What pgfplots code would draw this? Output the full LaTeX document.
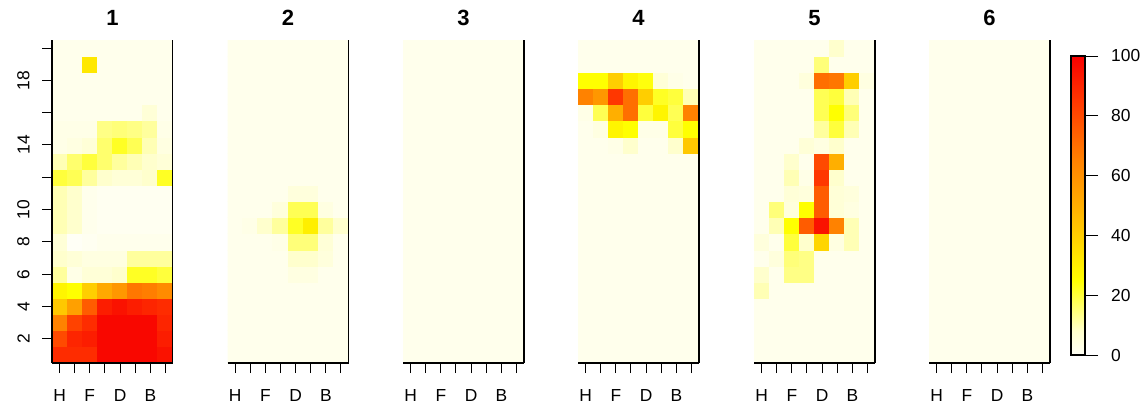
\documentclass[border=0pt]{standalone}
\usepackage{fontspec}
\setmainfont{Liberation Sans}
\usepackage{pgfplots}
\pgfplotsset{compat=1.18}

\pgfplotsset{
  colormap={heatramp}{rgb255(0pt)=(255,255,246) rgb255(8pt)=(255,255,205) rgb255(25pt)=(255,255,0)
    rgb255(45pt)=(255,190,0) rgb255(65pt)=(255,130,0) rgb255(85pt)=(255,55,0) rgb255(100pt)=(248,0,0)},
  every axis/.append style={
    /pgf/number format/assume math mode=true,
    tick label style={font=\fontsize{8.7}{10}\selectfont},
  },
  every axis title/.style={at={(0.5,1)}, anchor=center, yshift=11pt,
    font=\bfseries\fontsize{11}{13}\selectfont},
  panel/.style={
    scale only axis, width=60.5pt, height=161.5pt,
    anchor=south west,
    xmin=0.5, xmax=8.5, ymin=0.5, ymax=20.5,
    point meta min=0, point meta max=100,
    axis on top,
    axis x line*=bottom,
    xtick={1,...,8}, xticklabels={H,,F,,D,,B,},
    xticklabel style={yshift=-4.5pt},
    tick align=outside, major tick length=5pt,
    tick style={black, line width=0.5pt},
    axis line style={line width=0.8pt},
  },
  right frame/.style={axis y line*=right, ytick=\empty},
  cells/.style={matrix plot*, mesh/cols=8, point meta=explicit},
}

\begin{document}
\begin{tikzpicture}
\path[use as bounding box] (0,0) rectangle (572pt,-207pt);

% ---- panel 1 ----
\begin{axis}[panel, at={(26pt,-181.5pt)}, title={1},
  axis y line*=left, ytick={2,4,...,20}, yticklabels={2,4,6,8,10,,14,,18,},
  yticklabel style={rotate=90, anchor=south, inner ysep=6pt}]
\addplot[cells] coordinates {
(1,1)[88] (2,1)[88] (3,1)[88] (4,1)[98] (5,1)[98] (6,1)[98] (7,1)[98] (8,1)[95]
(1,2)[80] (2,2)[90] (3,2)[92] (4,2)[98] (5,2)[98] (6,2)[98] (7,2)[98] (8,2)[92]
(1,3)[65] (2,3)[82] (3,3)[88] (4,3)[98] (5,3)[98] (6,3)[98] (7,3)[98] (8,3)[90]
(1,4)[42] (2,4)[55] (3,4)[75] (4,4)[92] (5,4)[95] (6,4)[92] (7,4)[90] (8,4)[88]
(1,5)[28] (2,5)[25] (3,5)[40] (4,5)[52] (5,5)[58] (6,5)[68] (7,5)[66] (8,5)[62]
(1,6)[12] (2,6)[3] (3,6)[6] (4,6)[6] (5,6)[8] (6,6)[22] (7,6)[22] (8,6)[20]
(1,7)[8] (2,7)[6] (3,7)[4] (4,7)[4] (5,7)[4] (6,7)[12] (7,7)[12] (8,7)[12]
(1,8)[6] (2,8)[0] (3,8)[1] (4,8)[2] (5,8)[2] (6,8)[2] (7,8)[2] (8,8)[2]
(1,9)[10] (2,9)[8] (3,9)[2] (4,9)[1] (5,9)[1] (6,9)[1] (7,9)[1] (8,9)[1]
(1,10)[10] (2,10)[8] (3,10)[2] (4,10)[1] (5,10)[1] (6,10)[1] (7,10)[1] (8,10)[1]
(1,11)[10] (2,11)[8] (3,11)[2] (4,11)[1] (5,11)[1] (6,11)[1] (7,11)[1] (8,11)[1]
(1,12)[20] (2,12)[18] (3,12)[12] (4,12)[8] (5,12)[6] (6,12)[6] (7,12)[8] (8,12)[22]
(1,13)[10] (2,13)[16] (3,13)[20] (4,13)[16] (5,13)[12] (6,13)[10] (7,13)[8] (8,13)[6]
(1,14)[3] (2,14)[4] (3,14)[6] (4,14)[16] (5,14)[22] (6,14)[18] (7,14)[10] (8,14)[4]
(1,15)[3] (2,15)[3] (3,15)[3] (4,15)[14] (5,15)[15] (6,15)[14] (7,15)[12] (8,15)[3]
(1,16)[2] (2,16)[2] (3,16)[2] (4,16)[2] (5,16)[2] (6,16)[2] (7,16)[6] (8,16)[2]
(1,17)[2] (2,17)[2] (3,17)[2] (4,17)[2] (5,17)[2] (6,17)[2] (7,17)[2] (8,17)[2]
(1,18)[2] (2,18)[2] (3,18)[2] (4,18)[2] (5,18)[2] (6,18)[2] (7,18)[2] (8,18)[2]
(1,19)[2] (2,19)[2] (3,19)[32] (4,19)[2] (5,19)[2] (6,19)[2] (7,19)[2] (8,19)[2]
(1,20)[2] (2,20)[2] (3,20)[2] (4,20)[2] (5,20)[2] (6,20)[2] (7,20)[2] (8,20)[2]
};
\draw[line width=0.8pt] (rel axis cs:1,0) -- (rel axis cs:1,1);
\end{axis}

% ---- panel 2 ----
\begin{axis}[panel, right frame, at={(113.75pt,-181.5pt)}, title={2}]
\addplot[cells] coordinates {
(1,1)[2] (2,1)[2] (3,1)[2] (4,1)[2] (5,1)[2] (6,1)[2] (7,1)[2] (8,1)[2]
(1,2)[2] (2,2)[2] (3,2)[2] (4,2)[2] (5,2)[2] (6,2)[2] (7,2)[2] (8,2)[2]
(1,3)[2] (2,3)[2] (3,3)[2] (4,3)[2] (5,3)[2] (6,3)[2] (7,3)[2] (8,3)[2]
(1,4)[2] (2,4)[2] (3,4)[2] (4,4)[2] (5,4)[2] (6,4)[2] (7,4)[2] (8,4)[2]
(1,5)[2] (2,5)[2] (3,5)[2] (4,5)[2] (5,5)[2] (6,5)[2] (7,5)[2] (8,5)[2]
(1,6)[2] (2,6)[2] (3,6)[2] (4,6)[2] (5,6)[4] (6,6)[4] (7,6)[2] (8,6)[2]
(1,7)[2] (2,7)[2] (3,7)[2] (4,7)[2] (5,7)[8] (6,7)[8] (7,7)[5] (8,7)[2]
(1,8)[2] (2,8)[2] (3,8)[2] (4,8)[3] (5,8)[15] (6,8)[15] (7,8)[6] (8,8)[2]
(1,9)[2] (2,9)[3] (3,9)[8] (4,9)[12] (5,9)[22] (6,9)[30] (7,9)[12] (8,9)[8]
(1,10)[2] (2,10)[2] (3,10)[2] (4,10)[5] (5,10)[18] (6,10)[18] (7,10)[4] (8,10)[2]
(1,11)[2] (2,11)[2] (3,11)[2] (4,11)[2] (5,11)[5] (6,11)[5] (7,11)[2] (8,11)[2]
(1,12)[2] (2,12)[2] (3,12)[2] (4,12)[2] (5,12)[2] (6,12)[2] (7,12)[2] (8,12)[2]
(1,13)[2] (2,13)[2] (3,13)[2] (4,13)[2] (5,13)[2] (6,13)[2] (7,13)[2] (8,13)[2]
(1,14)[2] (2,14)[2] (3,14)[2] (4,14)[2] (5,14)[2] (6,14)[2] (7,14)[2] (8,14)[2]
(1,15)[2] (2,15)[2] (3,15)[2] (4,15)[2] (5,15)[2] (6,15)[2] (7,15)[2] (8,15)[2]
(1,16)[2] (2,16)[2] (3,16)[2] (4,16)[2] (5,16)[2] (6,16)[2] (7,16)[2] (8,16)[2]
(1,17)[2] (2,17)[2] (3,17)[2] (4,17)[2] (5,17)[2] (6,17)[2] (7,17)[2] (8,17)[2]
(1,18)[2] (2,18)[2] (3,18)[2] (4,18)[2] (5,18)[2] (6,18)[2] (7,18)[2] (8,18)[2]
(1,19)[2] (2,19)[2] (3,19)[2] (4,19)[2] (5,19)[2] (6,19)[2] (7,19)[2] (8,19)[2]
(1,20)[2] (2,20)[2] (3,20)[2] (4,20)[2] (5,20)[2] (6,20)[2] (7,20)[2] (8,20)[2]
};
\end{axis}

% ---- panel 3 ----
\begin{axis}[panel, right frame, at={(201.5pt,-181.5pt)}, title={3}]
\addplot[cells] coordinates {
(1,1)[2] (2,1)[2] (3,1)[2] (4,1)[2] (5,1)[2] (6,1)[2] (7,1)[2] (8,1)[2]
(1,2)[2] (2,2)[2] (3,2)[2] (4,2)[2] (5,2)[2] (6,2)[2] (7,2)[2] (8,2)[2]
(1,3)[2] (2,3)[2] (3,3)[2] (4,3)[2] (5,3)[2] (6,3)[2] (7,3)[2] (8,3)[2]
(1,4)[2] (2,4)[2] (3,4)[2] (4,4)[2] (5,4)[2] (6,4)[2] (7,4)[2] (8,4)[2]
(1,5)[2] (2,5)[2] (3,5)[2] (4,5)[2] (5,5)[2] (6,5)[2] (7,5)[2] (8,5)[2]
(1,6)[2] (2,6)[2] (3,6)[2] (4,6)[2] (5,6)[2] (6,6)[2] (7,6)[2] (8,6)[2]
(1,7)[2] (2,7)[2] (3,7)[2] (4,7)[2] (5,7)[2] (6,7)[2] (7,7)[2] (8,7)[2]
(1,8)[2] (2,8)[2] (3,8)[2] (4,8)[2] (5,8)[2] (6,8)[2] (7,8)[2] (8,8)[2]
(1,9)[2] (2,9)[2] (3,9)[2] (4,9)[2] (5,9)[2] (6,9)[2] (7,9)[2] (8,9)[2]
(1,10)[2] (2,10)[2] (3,10)[2] (4,10)[2] (5,10)[2] (6,10)[2] (7,10)[2] (8,10)[2]
(1,11)[2] (2,11)[2] (3,11)[2] (4,11)[2] (5,11)[2] (6,11)[2] (7,11)[2] (8,11)[2]
(1,12)[2] (2,12)[2] (3,12)[2] (4,12)[2] (5,12)[2] (6,12)[2] (7,12)[2] (8,12)[2]
(1,13)[2] (2,13)[2] (3,13)[2] (4,13)[2] (5,13)[2] (6,13)[2] (7,13)[2] (8,13)[2]
(1,14)[2] (2,14)[2] (3,14)[2] (4,14)[2] (5,14)[2] (6,14)[2] (7,14)[2] (8,14)[2]
(1,15)[2] (2,15)[2] (3,15)[2] (4,15)[2] (5,15)[2] (6,15)[2] (7,15)[2] (8,15)[2]
(1,16)[2] (2,16)[2] (3,16)[2] (4,16)[2] (5,16)[2] (6,16)[2] (7,16)[2] (8,16)[2]
(1,17)[2] (2,17)[2] (3,17)[2] (4,17)[2] (5,17)[2] (6,17)[2] (7,17)[2] (8,17)[2]
(1,18)[2] (2,18)[2] (3,18)[2] (4,18)[2] (5,18)[2] (6,18)[2] (7,18)[2] (8,18)[2]
(1,19)[2] (2,19)[2] (3,19)[2] (4,19)[2] (5,19)[2] (6,19)[2] (7,19)[2] (8,19)[2]
(1,20)[2] (2,20)[2] (3,20)[2] (4,20)[2] (5,20)[2] (6,20)[2] (7,20)[2] (8,20)[2]
};
\end{axis}

% ---- panel 4 ----
\begin{axis}[panel, right frame, at={(289pt,-181.5pt)}, title={4}]
\addplot[cells] coordinates {
(1,1)[2] (2,1)[2] (3,1)[2] (4,1)[2] (5,1)[2] (6,1)[2] (7,1)[2] (8,1)[2]
(1,2)[2] (2,2)[2] (3,2)[2] (4,2)[2] (5,2)[2] (6,2)[2] (7,2)[2] (8,2)[2]
(1,3)[2] (2,3)[2] (3,3)[2] (4,3)[2] (5,3)[2] (6,3)[2] (7,3)[2] (8,3)[2]
(1,4)[2] (2,4)[2] (3,4)[2] (4,4)[2] (5,4)[2] (6,4)[2] (7,4)[2] (8,4)[2]
(1,5)[2] (2,5)[2] (3,5)[2] (4,5)[2] (5,5)[2] (6,5)[2] (7,5)[2] (8,5)[2]
(1,6)[2] (2,6)[2] (3,6)[2] (4,6)[2] (5,6)[2] (6,6)[2] (7,6)[2] (8,6)[2]
(1,7)[2] (2,7)[2] (3,7)[2] (4,7)[2] (5,7)[2] (6,7)[2] (7,7)[2] (8,7)[2]
(1,8)[2] (2,8)[2] (3,8)[2] (4,8)[2] (5,8)[2] (6,8)[2] (7,8)[2] (8,8)[2]
(1,9)[2] (2,9)[2] (3,9)[2] (4,9)[2] (5,9)[2] (6,9)[2] (7,9)[2] (8,9)[2]
(1,10)[2] (2,10)[2] (3,10)[2] (4,10)[2] (5,10)[2] (6,10)[2] (7,10)[2] (8,10)[2]
(1,11)[2] (2,11)[2] (3,11)[2] (4,11)[2] (5,11)[2] (6,11)[2] (7,11)[2] (8,11)[2]
(1,12)[2] (2,12)[2] (3,12)[2] (4,12)[2] (5,12)[2] (6,12)[2] (7,12)[2] (8,12)[2]
(1,13)[2] (2,13)[2] (3,13)[2] (4,13)[2] (5,13)[2] (6,13)[2] (7,13)[2] (8,13)[2]
(1,14)[2] (2,14)[2] (3,14)[3] (4,14)[8] (5,14)[2] (6,14)[2] (7,14)[8] (8,14)[42]
(1,15)[2] (2,15)[4] (3,15)[28] (4,15)[25] (5,15)[3] (6,15)[3] (7,15)[20] (8,15)[25]
(1,16)[3] (2,16)[18] (3,16)[50] (4,16)[70] (5,16)[20] (6,16)[28] (7,16)[18] (8,16)[65]
(1,17)[65] (2,17)[58] (3,17)[85] (4,17)[70] (5,17)[40] (6,17)[22] (7,17)[20] (8,17)[10]
(1,18)[25] (2,18)[25] (3,18)[40] (4,18)[28] (5,18)[24] (6,18)[6] (7,18)[3] (8,18)[2]
(1,19)[2] (2,19)[2] (3,19)[2] (4,19)[2] (5,19)[2] (6,19)[2] (7,19)[2] (8,19)[2]
(1,20)[2] (2,20)[2] (3,20)[2] (4,20)[2] (5,20)[2] (6,20)[2] (7,20)[2] (8,20)[2]
};
\end{axis}

% ---- panel 5 ----
\begin{axis}[panel, right frame, at={(377pt,-181.5pt)}, title={5}]
\addplot[cells] coordinates {
(1,1)[2] (2,1)[2] (3,1)[2] (4,1)[2] (5,1)[2] (6,1)[2] (7,1)[2] (8,1)[2]
(1,2)[2] (2,2)[2] (3,2)[2] (4,2)[2] (5,2)[2] (6,2)[2] (7,2)[2] (8,2)[2]
(1,3)[2] (2,3)[2] (3,3)[2] (4,3)[2] (5,3)[2] (6,3)[2] (7,3)[2] (8,3)[2]
(1,4)[2] (2,4)[2] (3,4)[2] (4,4)[2] (5,4)[2] (6,4)[2] (7,4)[2] (8,4)[2]
(1,5)[10] (2,5)[2] (3,5)[2] (4,5)[2] (5,5)[2] (6,5)[2] (7,5)[2] (8,5)[2]
(1,6)[8] (2,6)[2] (3,6)[14] (4,6)[14] (5,6)[2] (6,6)[2] (7,6)[2] (8,6)[2]
(1,7)[2] (2,7)[5] (3,7)[15] (4,7)[14] (5,7)[2] (6,7)[2] (7,7)[2] (8,7)[2]
(1,8)[5] (2,8)[2] (3,8)[20] (4,8)[8] (5,8)[38] (6,8)[4] (7,8)[10] (8,8)[2]
(1,9)[2] (2,9)[10] (3,9)[25] (4,9)[75] (5,9)[95] (6,9)[65] (7,9)[10] (8,9)[2]
(1,10)[2] (2,10)[15] (3,10)[5] (4,10)[25] (5,10)[75] (6,10)[6] (7,10)[4] (8,10)[2]
(1,11)[2] (2,11)[2] (3,11)[6] (4,11)[5] (5,11)[75] (6,11)[6] (7,11)[5] (8,11)[2]
(1,12)[2] (2,12)[2] (3,12)[10] (4,12)[3] (5,12)[85] (6,12)[8] (7,12)[2] (8,12)[2]
(1,13)[2] (2,13)[2] (3,13)[8] (4,13)[2] (5,13)[80] (6,13)[50] (7,13)[2] (8,13)[2]
(1,14)[2] (2,14)[2] (3,14)[2] (4,14)[6] (5,14)[4] (6,14)[8] (7,14)[2] (8,14)[2]
(1,15)[2] (2,15)[2] (3,15)[2] (4,15)[2] (5,15)[12] (6,15)[20] (7,15)[10] (8,15)[2]
(1,16)[2] (2,16)[2] (3,16)[2] (4,16)[2] (5,16)[18] (6,16)[25] (7,16)[15] (8,16)[2]
(1,17)[2] (2,17)[2] (3,17)[2] (4,17)[2] (5,17)[18] (6,17)[20] (7,17)[10] (8,17)[2]
(1,18)[2] (2,18)[2] (3,18)[2] (4,18)[5] (5,18)[70] (6,18)[68] (7,18)[40] (8,18)[4]
(1,19)[2] (2,19)[2] (3,19)[2] (4,19)[2] (5,19)[15] (6,19)[2] (7,19)[2] (8,19)[2]
(1,20)[2] (2,20)[2] (3,20)[2] (4,20)[2] (5,20)[2] (6,20)[8] (7,20)[2] (8,20)[2]
};
\end{axis}

% ---- panel 6 with colour key ----
\begin{axis}[panel, right frame, at={(464.5pt,-181.5pt)}, title={6},
  colormap name=heatramp,
  colorbar,
  colorbar style={
    at={(parent axis.north east)}, anchor=north west,
    xshift=2pt, yshift=-8pt,
    scale only axis, width=7pt, height=149.5pt,
    ytick={0,20,...,100},
    ytick pos=right, yticklabel pos=right,
    yticklabel style={xshift=3pt},
    tick align=outside, major tick length=6.5pt,
    tick style={black, line width=0.5pt},
    axis line style={line width=0.6pt},
  }]
\addplot[cells] coordinates {
(1,1)[2] (2,1)[2] (3,1)[2] (4,1)[2] (5,1)[2] (6,1)[2] (7,1)[2] (8,1)[2]
(1,2)[2] (2,2)[2] (3,2)[2] (4,2)[2] (5,2)[2] (6,2)[2] (7,2)[2] (8,2)[2]
(1,3)[2] (2,3)[2] (3,3)[2] (4,3)[2] (5,3)[2] (6,3)[2] (7,3)[2] (8,3)[2]
(1,4)[2] (2,4)[2] (3,4)[2] (4,4)[2] (5,4)[2] (6,4)[2] (7,4)[2] (8,4)[2]
(1,5)[2] (2,5)[2] (3,5)[2] (4,5)[2] (5,5)[2] (6,5)[2] (7,5)[2] (8,5)[2]
(1,6)[2] (2,6)[2] (3,6)[2] (4,6)[2] (5,6)[2] (6,6)[2] (7,6)[2] (8,6)[2]
(1,7)[2] (2,7)[2] (3,7)[2] (4,7)[2] (5,7)[2] (6,7)[2] (7,7)[2] (8,7)[2]
(1,8)[2] (2,8)[2] (3,8)[2] (4,8)[2] (5,8)[2] (6,8)[2] (7,8)[2] (8,8)[2]
(1,9)[2] (2,9)[2] (3,9)[2] (4,9)[2] (5,9)[2] (6,9)[2] (7,9)[2] (8,9)[2]
(1,10)[2] (2,10)[2] (3,10)[2] (4,10)[2] (5,10)[2] (6,10)[2] (7,10)[2] (8,10)[2]
(1,11)[2] (2,11)[2] (3,11)[2] (4,11)[2] (5,11)[2] (6,11)[2] (7,11)[2] (8,11)[2]
(1,12)[2] (2,12)[2] (3,12)[2] (4,12)[2] (5,12)[2] (6,12)[2] (7,12)[2] (8,12)[2]
(1,13)[2] (2,13)[2] (3,13)[2] (4,13)[2] (5,13)[2] (6,13)[2] (7,13)[2] (8,13)[2]
(1,14)[2] (2,14)[2] (3,14)[2] (4,14)[2] (5,14)[2] (6,14)[2] (7,14)[2] (8,14)[2]
(1,15)[2] (2,15)[2] (3,15)[2] (4,15)[2] (5,15)[2] (6,15)[2] (7,15)[2] (8,15)[2]
(1,16)[2] (2,16)[2] (3,16)[2] (4,16)[2] (5,16)[2] (6,16)[2] (7,16)[2] (8,16)[2]
(1,17)[2] (2,17)[2] (3,17)[2] (4,17)[2] (5,17)[2] (6,17)[2] (7,17)[2] (8,17)[2]
(1,18)[2] (2,18)[2] (3,18)[2] (4,18)[2] (5,18)[2] (6,18)[2] (7,18)[2] (8,18)[2]
(1,19)[2] (2,19)[2] (3,19)[2] (4,19)[2] (5,19)[2] (6,19)[2] (7,19)[2] (8,19)[2]
(1,20)[2] (2,20)[2] (3,20)[2] (4,20)[2] (5,20)[2] (6,20)[2] (7,20)[2] (8,20)[2]
};
\end{axis}
\end{tikzpicture}
\end{document}
